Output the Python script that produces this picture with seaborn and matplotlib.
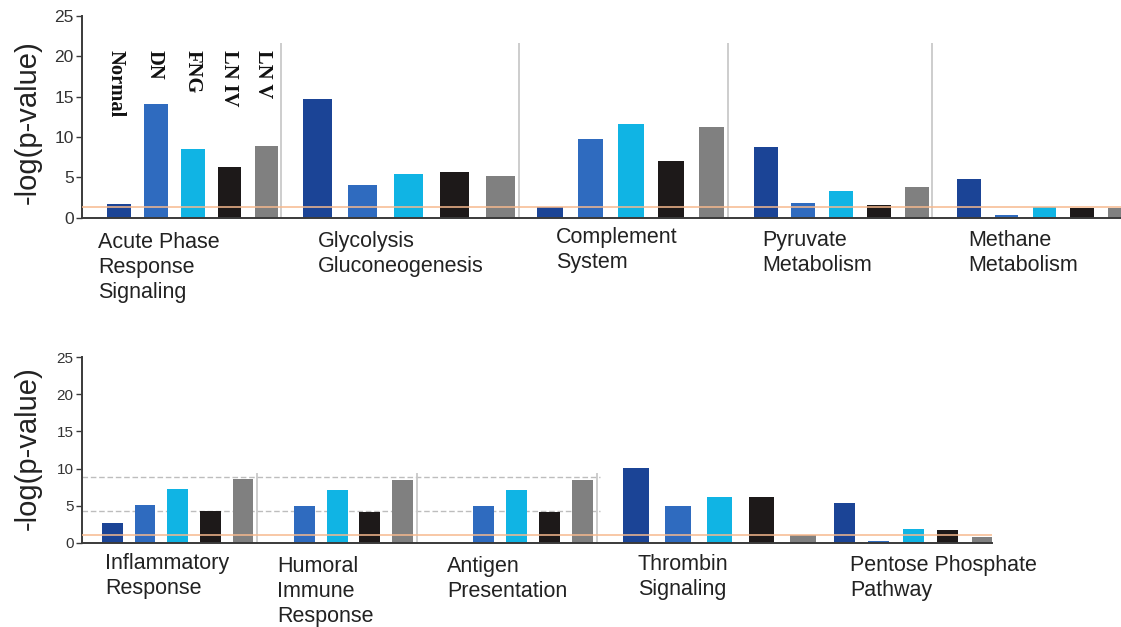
import matplotlib
matplotlib.use("Agg")
import matplotlib.pyplot as plt
import pandas as pd
import seaborn as sns

# ---- data -------------------------------------------------------------
samples = ["Normal", "DN", "FNG", "LN IV", "LN V"]
sample_colors = ["#1b4496", "#2f6bbf", "#10b4e4", "#1d1919", "#808080"]

top_pathways = ["Acute Phase\nResponse\nSignaling", "Glycolysis\nGluconeogenesis",
                "Complement\nSystem", "Pyruvate\nMetabolism", "Methane\nMetabolism"]
top_normal = [1.65, 14.65, 1.25, 8.7, 4.75]
top_dn = [14.1, 4.0, 9.8, 1.75, 0.35]
top_fng = [8.5, 5.45, 11.55, 3.3, 1.3]
top_lniv = [6.3, 5.65, 7.0, 1.55, 1.2]
top_lnv = [8.85, 5.15, 11.25, 3.8, 1.2]

bottom_pathways = ["Inflammatory\nResponse", "Humoral\nImmune\nResponse",
                   "Antigen\nPresentation", "Thrombin\nSignaling",
                   "Pentose Phosphate\nPathway"]
bottom_normal = [2.7, 0.0, 0.0, 10.1, 5.4]
bottom_dn = [5.05, 4.95, 4.95, 5.0, 0.25]
bottom_fng = [7.2, 7.05, 7.05, 6.1, 1.85]
bottom_lniv = [4.3, 4.2, 4.2, 6.1, 1.7]
bottom_lnv = [8.6, 8.45, 8.45, 1.05, 0.8]

threshold_top = 1.3
threshold_bottom = 1.0
reference_levels = [8.9, 4.3]

y_ticks = [0, 5, 10, 15, 20, 25]

# ---- layout (x axis runs in figure pixels) ----------------------------
W, H = 1121, 627
# (first bar centre, bar step, bar width) per pathway group
top_layout = [(119.2, 36.8, 23.5), (317.0, 45.9, 29.0), (550.0, 40.4, 25.5),
              (765.5, 37.8, 24.0), (969.0, 37.7, 23.5)]
bottom_layout = [(112.5, 32.6, 20.5), (271.5, 32.8, 21.0), (450.5, 33.0, 21.0),
                 (636.0, 41.8, 25.5), (844.5, 34.4, 21.0)]
top_separators = [281, 519, 728, 932]
bottom_separators = [257, 417, 597]
top_label_pos = [(98, 232), (318, 231), (556, 227), (762, 230), (968, 230)]
bottom_label_pos = [(105, 553), (277, 556), (447, 556), (638, 554), (850, 555)]
sample_name_x = [116, 155, 193, 229, 263]

sns.set_theme(style="white")
plt.rcParams["font.family"] = ["Liberation Sans", "DejaVu Sans"]

fig = plt.figure(figsize=(W / 100, H / 100), dpi=100)
palette = dict(zip(samples, sample_colors))


def make_axes(left, right, y0, y25):
    return fig.add_axes([left / W, 1 - y0 / H, (right - left) / W, (y0 - y25) / H])


def draw_panel(ax, series, layout, xlim):
    for g, (start, step, width) in enumerate(layout):
        df = pd.DataFrame({
            "pos": [start + i * step for i in range(len(samples))],
            "value": [s[g] for s in series],
            "sample": samples,
        })
        sns.barplot(data=df, x="pos", y="value", hue="sample", hue_order=samples,
                    palette=palette, native_scale=True, dodge=False,
                    width=width / step, errorbar=None, legend=False,
                    saturation=1, linewidth=0, ax=ax)
    ax.set_xlim(*xlim)
    ax.set_ylim(0, 25)
    ax.set_yticks(y_ticks)
    ax.set_xticks([])
    ax.set_xlabel("")
    ax.set_ylabel("")
    for side in ("top", "right"):
        ax.spines[side].set_visible(False)
    for side in ("left", "bottom"):
        ax.spines[side].set_color("#3a3a3a")
        ax.spines[side].set_linewidth(1.4)
    ax.patch.set_alpha(0)


# ---- top panel --------------------------------------------------------
ax1 = make_axes(82, 1121, 217.5, 16)
draw_panel(ax1, [top_normal, top_dn, top_fng, top_lniv, top_lnv], top_layout, (82, 1121))
ax1.axhline(threshold_top, color="#f6b98e", lw=1.1, zorder=5)
for xs in top_separators:
    ax1.vlines(xs, 0, 21.65, color="#c9c9c9", lw=1.3, zorder=1)
ax1.tick_params(axis="y", left=True, length=4, width=1, color="#3a3a3a",
                labelsize=12.5, labelcolor="#333333", pad=2)

# sample names written vertically above the first group
for x, name in zip(sample_name_x, samples):
    ax1.text(x, (217.5 - 50) / 8.06, name, rotation=270, ha="center", va="top",
             family=["Liberation Serif", "DejaVu Serif"], fontweight="bold",
             fontsize=14.8, color="#111111")

for (x, y), label in zip(top_label_pos, top_pathways):
    fig.text(x / W, 1 - y / H, label, ha="left", va="top", fontsize=15.5,
             color="#222222", linespacing=1.24)

fig.text(28 / W, 1 - 122 / H, "-log(p-value)", rotation=90, ha="center",
         va="center", fontsize=21, color="#222222")

# ---- bottom panel -----------------------------------------------------
ax2 = make_axes(82, 992, 542.7, 357.3)
draw_panel(ax2, [bottom_normal, bottom_dn, bottom_fng, bottom_lniv, bottom_lnv],
           bottom_layout, (82, 992))
ax2.axhline(threshold_bottom, color="#f6b98e", lw=1.1, zorder=5)
for lvl in reference_levels:
    ax2.hlines(lvl, 82, 600, color="#bdbdbd", lw=1.0, linestyles=(0, (4, 2)), zorder=0.5)
for xs in bottom_separators:
    ax2.vlines(xs, 0, 9.4, color="#c9c9c9", lw=1.3, zorder=0.5)
ax2.tick_params(axis="y", left=True, length=4, width=1, color="#3a3a3a",
                labelsize=11, labelcolor="#333333", pad=2)

for (x, y), label in zip(bottom_label_pos, bottom_pathways):
    fig.text(x / W, 1 - y / H, label, ha="left", va="top", fontsize=15.5,
             color="#222222", linespacing=1.24)

fig.text(28 / W, 1 - 448 / H, "-log(p-value)", rotation=90, ha="center",
         va="center", fontsize=21, color="#222222")

fig.savefig("out.png", dpi=100, facecolor="white")
